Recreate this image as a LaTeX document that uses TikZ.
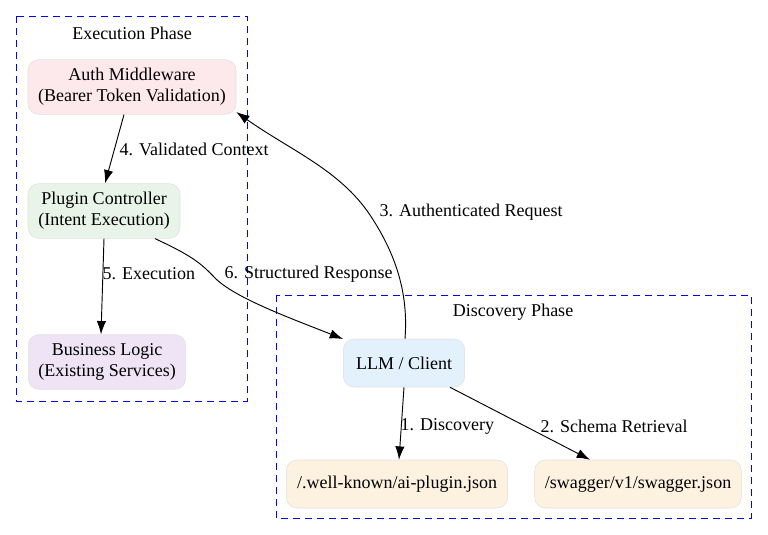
\documentclass[tikz,border=0pt]{standalone}
\usepackage{fontspec}
\setmainfont{Liberation Serif}
\usetikzlibrary{arrows.meta}
\definecolor{cpink}{HTML}{FDE8EC}
\definecolor{cgreen}{HTML}{E7F4E7}
\definecolor{cpurple}{HTML}{EFE4F5}
\definecolor{cblue}{HTML}{E3F1FC}
\definecolor{corange}{HTML}{FDF2DF}
\begin{document}
\begin{tikzpicture}[x=0.75pt,y=-0.75pt,
  every node/.style={font=\fontsize{13.5}{15.5}\selectfont},
  box/.style={draw=black!12,rounded corners=8pt,align=center,inner sep=0pt},
  cluster/.style={draw=blue,line width=0.7pt,dash pattern=on 5pt off 4pt},
  edge/.style={-{Latex[length=10pt,width=7pt]},line width=0.7pt},
  lab/.style={anchor=west,inner sep=1pt}]
\useasboundingbox (0,0) rectangle (768,535);
\draw[cluster] (16,16) rectangle (247,401);
\node (t1) at (132,33) {Execution Phase};
\draw[cluster] (276,295) rectangle (751,518);
\node (t2) at (513,312) {Discovery Phase};
\node[box,fill=cpink,minimum width=156pt,minimum height=41pt] (auth) at (132,87) {Auth Middleware\\(Bearer Token Validation)};
\node[box,fill=cgreen,minimum width=114pt,minimum height=41pt] (pc) at (104,211) {Plugin Controller\\(Intent Execution)};
\node[box,fill=cpurple,minimum width=118pt,minimum height=41pt] (bl) at (107,362) {Business Logic\\(Existing Services)};
\node[box,fill=cblue,minimum width=91pt,minimum height=36pt] (llm) at (404,363) {LLM / Client};
\node[box,fill=corange,minimum width=166pt,minimum height=36pt] (ai) at (397,484) {/.well-known/ai-plugin.json};
\node[box,fill=corange,minimum width=155pt,minimum height=36pt] (sw) at (638,484) {/swagger/v1/swagger.json};
\draw[edge] (auth.south -| 124,0) -- (pc.north -| 105,0);
\node[lab] (l4) at (118,149) {4. Validated Context};
\draw[edge] (pc.south) -- (bl.north -| 101,0);
\node[lab] (l5) at (101,274) {5. Execution};
\draw[edge] (pc.south -| 155,0) .. controls (190,255) and (200,262) .. (215,278) .. controls (235,298) and (290,318) .. (llm.west |- 0,339);
\node[lab] (l6) at (223,274) {6. Structured Response};
\draw[edge] (llm.north -| 405,0) .. controls (408,300) and (400,260) .. (370,215) .. controls (340,170) and (290,150) .. (auth.east |- 0,112);
\node[lab] (l3) at (378,212) {3. Authenticated Request};
\draw[edge] (llm.south) -- (ai.north -| 399,0);
\node[lab] (l1) at (399,426) {1. Discovery};
\draw[edge] (llm.south -| 450,0) -- (sw.north -| 590,0);
\node[lab] (l2) at (539,426) {2. Schema Retrieval};
\end{tikzpicture}
\end{document}
